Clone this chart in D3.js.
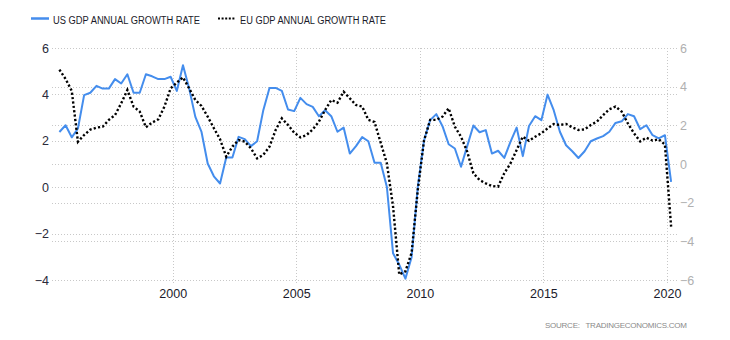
<!DOCTYPE html>
<html>
<head>
<meta charset="utf-8">
<script src="https://cdn.jsdelivr.net/npm/d3@7"></script>
<style>
  html, body { margin: 0; padding: 0; background: #fff; }
  svg { display: block; }
</style>
</head>
<body>
<svg id="chart" width="730" height="340"></svg>
<script>
// ---- data ----
const firstQuarter = { year: 1995, quarter: 2 };
const usGrowth = [
  2.38, 2.67, 2.15, 2.53, 3.97, 4.07, 4.37, 4.25, 4.25, 4.66,
  4.47, 4.87, 4.07, 4.07, 4.87, 4.78, 4.66, 4.66, 4.76, 4.15,
  5.26, 4.25, 3.03, 2.38, 1.02, 0.47, 0.16, 1.28, 1.28, 2.17,
  2.07, 1.77, 1.98, 3.32, 4.28, 4.28, 4.15, 3.35, 3.28, 3.85,
  3.58, 3.46, 3.06, 3.32, 3.06, 2.39, 2.57, 1.45, 1.77, 2.16,
  1.98, 1.05, 1.05, 0.01, -2.85, -3.34, -3.94, -3.02, 0.0, 2.0,
  2.89, 3.15, 2.63, 1.85, 1.67, 0.88, 1.77, 2.66, 2.37, 2.46,
  1.45, 1.57, 1.26, 1.95, 2.57, 1.34, 2.64, 3.06, 2.89, 3.99,
  3.32, 2.39, 1.81, 1.55, 1.26, 1.55, 1.98, 2.10, 2.20, 2.39,
  2.77, 2.84, 3.15, 3.06, 2.50, 2.67, 2.24, 2.10, 2.24, 0.23
];
const euGrowth = [
  4.88, 4.40, 3.78, 1.15, 1.50, 1.78, 1.88, 1.93, 2.28, 2.53,
  3.14, 3.83, 2.97, 2.71, 1.90, 2.14, 2.31, 2.97, 3.91, 4.21,
  4.48, 3.91, 3.31, 3.00, 2.45, 1.85, 1.28, 0.38, 0.90, 1.24,
  1.16, 0.81, 0.29, 0.47, 0.90, 1.76, 2.36, 2.02, 1.62, 1.38,
  1.50, 1.79, 2.19, 2.79, 3.31, 3.17, 3.74, 3.40, 3.05, 2.97,
  2.28, 2.17, 1.10, 0.03, -2.20, -5.72, -5.55, -4.60, -1.35, 1.20,
  2.28, 2.28, 2.45, 2.88, 1.93, 1.41, 0.64, -0.48, -0.83, -1.00,
  -1.14, -1.17, -0.48, 0.03, 0.72, 1.41, 1.20, 1.41, 1.59, 1.84,
  2.07, 2.02, 2.07, 1.90, 1.76, 1.79, 2.02, 2.19, 2.53, 2.83,
  2.97, 2.71, 2.10, 1.59, 1.17, 1.36, 1.21, 1.28, 1.00, -3.24
];
const leftTicks = [6, 4, 2, 0, -2, -4];
const rightTicks = [6, 4, 2, 0, -2, -4, -6];
const yearTicks = [2000, 2005, 2010, 2015, 2020];
const seriesNames = ["US GDP ANNUAL GROWTH RATE", "EU GDP ANNUAL GROWTH RATE"];
const sourceText = "SOURCE:   TRADINGECONOMICS.COM";

// quarter date as decimal year (placed at the quarter's last month)
const dates = usGrowth.map((_, i) => {
  const q = firstQuarter.quarter - 1 + i;
  const y = firstQuarter.year + Math.floor(q / 4);
  const qi = (q % 4) + 1;
  return y + (qi * 3 - 1) / 12;
});

// ---- layout ----
const svg = d3.select("#chart");
const plotLeft = 52, plotRight = 677, plotTop = 48, plotBottom = 280;
const blue = "#448ded";

const x = d3.scaleLinear().domain([1995.117, 2020.405]).range([plotLeft, plotRight]);
const yL = d3.scaleLinear().domain([-4, 6]).range([plotBottom, plotTop]);
const yR = d3.scaleLinear().domain([-6, 6]).range([plotBottom, plotTop]);

const grid = svg.append("g");
leftTicks.forEach(t => {
  grid.append("line")
    .attr("x1", plotLeft).attr("x2", plotRight)
    .attr("y1", Math.round(yL(t)) + 0.5).attr("y2", Math.round(yL(t)) + 0.5)
    .attr("stroke", "#c8c8c8").attr("stroke-dasharray", "1,2");
});
rightTicks.forEach(t => {
  grid.append("line")
    .attr("x1", plotLeft).attr("x2", plotRight)
    .attr("y1", Math.round(yR(t)) + 0.5).attr("y2", Math.round(yR(t)) + 0.5)
    .attr("stroke", "#c8c8c8").attr("stroke-dasharray", "1,2");
});
yearTicks.forEach(t => {
  grid.append("line")
    .attr("x1", Math.round(x(t)) + 0.5).attr("x2", Math.round(x(t)) + 0.5)
    .attr("y1", plotTop).attr("y2", plotBottom + 5)
    .attr("stroke", "#c8c8c8").attr("stroke-dasharray", "1,2");
});

// axes
const fontFam = "'Liberation Sans', Arial, sans-serif";
const leftAxis = svg.append("g")
  .attr("transform", `translate(${plotLeft},0)`)
  .call(d3.axisLeft(yL).tickValues(leftTicks).tickSize(0).tickPadding(3).tickFormat(d3.format("d")));
leftAxis.select(".domain").remove();
leftAxis.selectAll("text").attr("font-family", fontFam).attr("font-size", 12.5).attr("fill", "#2a2a3a");

const rightAxis = svg.append("g")
  .attr("transform", `translate(${plotRight},0)`)
  .call(d3.axisRight(yR).tickValues(rightTicks).tickSize(0).tickPadding(3).tickFormat(d3.format("d")));
rightAxis.select(".domain").remove();
rightAxis.selectAll("text").attr("font-family", fontFam).attr("font-size", 12.5).attr("fill", "#b0b0b0");

const xAxis = svg.append("g")
  .attr("transform", `translate(0,${plotBottom})`)
  .call(d3.axisBottom(x).tickValues(yearTicks).tickSize(0).tickPadding(9).tickFormat(d3.format("d")));
xAxis.select(".domain").remove();
xAxis.selectAll("text").attr("font-family", fontFam).attr("font-size", 12.5).attr("fill", "#1a1a2a");

// lines
const usLine = d3.line().x((d, i) => x(dates[i])).y(d => yL(d));
const euLine = d3.line().x((d, i) => x(dates[i])).y(d => yR(d));

svg.append("path").datum(usGrowth)
  .attr("d", usLine).attr("fill", "none")
  .attr("stroke", blue).attr("stroke-width", 2).attr("stroke-linejoin", "round");

svg.append("path").datum(euGrowth)
  .attr("d", euLine).attr("fill", "none")
  .attr("stroke", "#000").attr("stroke-width", 2.4).attr("stroke-dasharray", "2.2,2.2");

// legend
const legFont = "'Liberation Sans', Arial, sans-serif";
const leg = svg.append("g");
leg.append("line").attr("x1", 31).attr("x2", 49).attr("y1", 18.5).attr("y2", 18.5)
  .attr("stroke", blue).attr("stroke-width", 2.5);
leg.append("text").attr("x", 53).attr("y", 23.5).text(seriesNames[0])
  .attr("font-family", legFont).attr("font-size", 10).attr("fill", "#1a1a2a")
  .attr("textLength", 147).attr("lengthAdjust", "spacingAndGlyphs");
leg.append("line").attr("x1", 218).attr("x2", 236).attr("y1", 18.5).attr("y2", 18.5)
  .attr("stroke", "#000").attr("stroke-width", 2).attr("stroke-dasharray", "2,1.6");
leg.append("text").attr("x", 240).attr("y", 23.5).text(seriesNames[1])
  .attr("font-family", legFont).attr("font-size", 10).attr("fill", "#1a1a2a")
  .attr("textLength", 146).attr("lengthAdjust", "spacingAndGlyphs");

// source
svg.append("text").attr("x", 545).attr("y", 328).text(sourceText)
  .attr("font-family", legFont).attr("font-size", 8).attr("fill", "#8a8a8a")
  .attr("textLength", 142).attr("lengthAdjust", "spacing")
  .style("white-space", "pre");
</script>
</body>
</html>
